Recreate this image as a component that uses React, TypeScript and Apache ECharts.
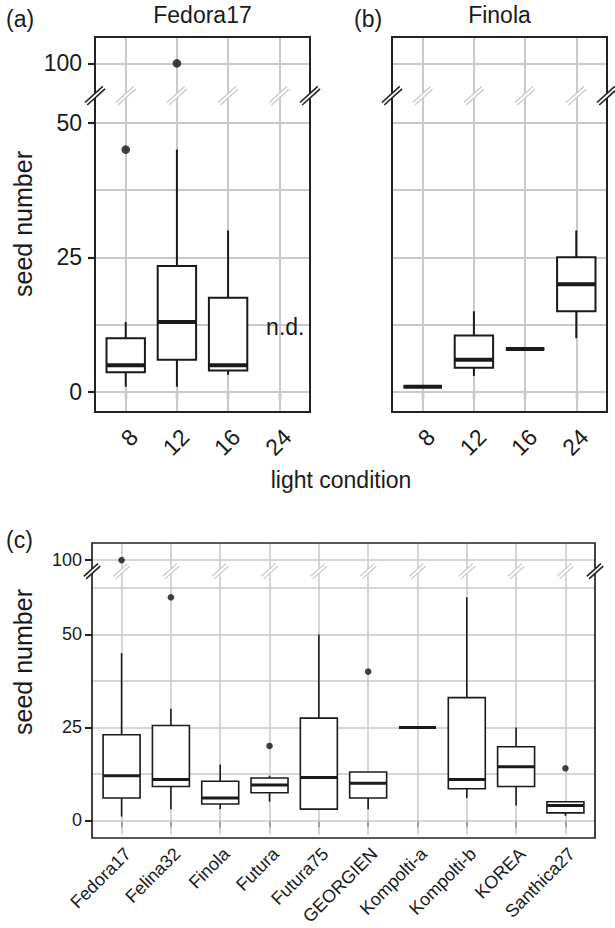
import React, { useEffect, useRef } from "react";
import * as echarts from "echarts";

// ---------- data ----------
const lightConditions = ["8", "12", "16", "24"];
// [min, Q1, median, Q3, max]; null = not determined
const fedoraBox: (number[] | null)[] = [
  [1, 3.7, 5, 10, 13],
  [1, 6, 13, 23.4, 45],
  [3.2, 4, 5, 17.5, 30],
  null,
];
const fedoraOutliers: [string, number][] = [
  ["8", 45],
  ["12", 100],
];
const finolaBox: (number[] | null)[] = [
  [1, 1, 1, 1, 1],
  [3, 4.5, 6, 10.5, 15],
  [8, 8, 8, 8, 8],
  [10, 15, 20, 25, 30],
];
const finolaOutliers: [string, number][] = [];
const ndLabel = { category: "24", value: 12, text: "n.d." };

const cultivars = [
  "Fedora17",
  "Felina32",
  "Finola",
  "Futura",
  "Futura75",
  "GEORGIEN",
  "Kompolti-a",
  "Kompolti-b",
  "KOREA",
  "Santhica27",
];
const cultivarBox: (number[] | null)[] = [
  [1, 6, 12, 23, 45],
  [3, 9.1, 11, 25.5, 30],
  [3, 4.4, 6, 10.5, 15],
  [5, 7.4, 9.5, 11.4, 12],
  [3, 3, 11.5, 27.5, 50],
  [3, 6, 10, 13, 13],
  [25, 25, 25, 25, 25],
  [6, 8.5, 11, 33, 60],
  [4, 9.1, 14.4, 19.8, 25],
  [1.2, 2, 4, 5, 5],
];
const cultivarOutliers: [string, number][] = [
  ["Fedora17", 100],
  ["Felina32", 60],
  ["Futura", 20],
  ["GEORGIEN", 40],
  ["Santhica27", 14],
];

const topTicks = [0, 25, 50, 100];
const topGridValues = [0, 12.5, 25, 37.5, 50, 100];
const bottomTicks = [0, 25, 50, 100];
const bottomGridValues = [0, 12.5, 25, 37.5, 50, 62.5, 100];

// ---------- layout / style ----------
const FONT = "'Liberation Sans', Arial, Helvetica, sans-serif";
const INK = "#1a1a1a";
const FRAME = "#222222";
const GRIDC = "#c9c9c9";
const BOX_WIDTH = 0.75;

type Panel = {
  cats: string[];
  box: (number[] | null)[];
  outliers: [string, number][];
  ticks: number[];
  gridValues: number[];
  cut: number;
  shift: number;
  yMin: number;
  yMax: number;
  rect: { left: number; top: number; width: number; height: number };
  yLabels: boolean;
  font: number;
  xMargin: number;
  yMargin: number;
  line: number;
  median: number;
  dot: number;
  grid: number;
  border: number;
  slash: number;
  tickW: number;
};

const panels: Panel[] = [
  {
    cats: lightConditions, box: fedoraBox, outliers: fedoraOutliers,
    ticks: topTicks, gridValues: topGridValues, cut: 55, shift: 39,
    yMin: -3.7, yMax: 65.9, rect: { left: 95, top: 37, width: 215, height: 375 },
    yLabels: true, font: 23, xMargin: 13, yMargin: 13, line: 2, median: 4,
    dot: 8.6, grid: 2, border: 2, slash: 24, tickW: 2.2,
  },
  {
    cats: lightConditions, box: finolaBox, outliers: finolaOutliers,
    ticks: topTicks, gridValues: topGridValues, cut: 55, shift: 39,
    yMin: -3.7, yMax: 65.9, rect: { left: 392, top: 37, width: 215, height: 375 },
    yLabels: false, font: 23, xMargin: 13, yMargin: 13, line: 2, median: 4,
    dot: 8.6, grid: 2, border: 2, slash: 24, tickW: 2.2,
  },
  {
    cats: cultivars, box: cultivarBox, outliers: cultivarOutliers,
    ticks: bottomTicks, gridValues: bottomGridValues, cut: 67, shift: 30,
    yMin: -3.83, yMax: 74.6, rect: { left: 92, top: 543, width: 503, height: 295 },
    yLabels: true, font: 18, xMargin: 10, yMargin: 10, line: 1.6, median: 3,
    dot: 6.6, grid: 1.5, border: 1.7, slash: 19, tickW: 2,
  },
];

const toDisplay = (v: number, p: Panel) => (v > p.cut ? v - p.shift : v);

function buildOption() {
  const grid: any[] = [];
  const xAxis: any[] = [];
  const yAxis: any[] = [];
  const series: any[] = [];

  panels.forEach((p, i) => {
    const n = p.cats.length;
    const idx = p.cats.map((_, k) => k + 1);
    grid.push({ ...p.rect, show: false, containLabel: false });
    xAxis.push({
      gridIndex: i,
      type: "value",
      min: 0.4,
      max: n + 0.6,
      axisLine: { show: false },
      splitLine: { show: false },
      axisTick: {
        show: true,
        customValues: idx,
        length: 7,
        lineStyle: { color: FRAME, width: p.tickW },
      },
      axisLabel: {
        show: true,
        customValues: idx,
        formatter: (v: number) => p.cats[Math.round(v) - 1] ?? "",
        rotate: 45,
        align: "right",
        verticalAlign: "top",
        margin: p.xMargin,
        fontSize: p.font,
        color: INK,
        fontFamily: FONT,
      },
    });
    const tickDisp = p.ticks.map((t) => toDisplay(t, p));
    yAxis.push({
      gridIndex: i,
      type: "value",
      min: p.yMin,
      max: p.yMax,
      axisLine: { show: false },
      splitLine: { show: false },
      axisTick: {
        show: p.yLabels,
        customValues: tickDisp,
        length: 7,
        lineStyle: { color: FRAME, width: p.tickW },
      },
      axisLabel: {
        show: p.yLabels,
        customValues: tickDisp,
        formatter: (val: number) => {
          const t = p.ticks.find((tt) => Math.abs(toDisplay(tt, p) - val) < 1e-6);
          return t === undefined ? "" : String(t);
        },
        margin: p.yMargin,
        fontSize: p.font,
        color: INK,
        fontFamily: FONT,
      },
    });

    const boxData = p.box
      .map((s, k) => (s ? [k + 1, ...s.map((v) => toDisplay(v, p))] : null))
      .filter((d) => d !== null);

    series.push({
      type: "custom",
      xAxisIndex: i,
      yAxisIndex: i,
      z: 10,
      silent: true,
      encode: { x: 0, y: [1, 2, 3, 4, 5] },
      data: boxData,
      renderItem: (_params: any, api: any) => {
        const x = api.value(0);
        const pts = [1, 2, 3, 4, 5].map((k) => api.coord([x, api.value(k)]));
        const half = api.size([BOX_WIDTH, 0])[0] / 2;
        const cx = pts[0][0];
        const st = { stroke: INK, lineWidth: p.line, fill: null };
        return {
          type: "group",
          children: [
            { type: "line", shape: { x1: cx, y1: pts[0][1], x2: cx, y2: pts[1][1] }, style: st },
            { type: "line", shape: { x1: cx, y1: pts[3][1], x2: cx, y2: pts[4][1] }, style: st },
            {
              type: "rect",
              shape: { x: cx - half, y: pts[3][1], width: 2 * half, height: pts[1][1] - pts[3][1] },
              style: { stroke: INK, lineWidth: p.line, fill: "#ffffff" },
            },
            {
              type: "line",
              shape: { x1: cx - half, y1: pts[2][1], x2: cx + half, y2: pts[2][1] },
              style: { stroke: INK, lineWidth: p.median },
            },
          ],
        };
      },
      markLine: {
        silent: true,
        symbol: ["none", "none"],
        label: { show: false },
        emphasis: { disabled: true },
        lineStyle: { color: GRIDC, width: p.grid, type: "solid" },
        data: [
          ...p.gridValues.map((v) => ({ yAxis: toDisplay(v, p) })),
          ...idx.map((x) => ({ xAxis: x })),
        ],
      },
    });

    series.push({
      type: "scatter",
      xAxisIndex: i,
      yAxisIndex: i,
      z: 12,
      silent: true,
      symbol: "circle",
      symbolSize: p.dot,
      itemStyle: { color: "#111111" },
      data: p.outliers.map(([c, v]) => [p.cats.indexOf(c) + 1, toDisplay(v, p)]),
    });
  });

  return {
    animation: false,
    backgroundColor: "#ffffff",
    grid,
    xAxis,
    yAxis,
    series,
  };
}

function textEl(text: string, x: number, y: number, size: number, opts: any = {}) {
  return {
    type: "text",
    x,
    y,
    rotation: opts.rotation || 0,
    z: 40,
    silent: true,
    style: {
      text,
      fill: INK,
      font: `${size}px ${FONT}`,
      align: opts.align || "center",
      verticalAlign: "middle",
    },
  };
}

function slashEls(cx: number, cy: number, len: number, color: string, w: number) {
  const a = (42 * Math.PI) / 180;
  const ux = Math.cos(a), uy = -Math.sin(a);
  const nx = Math.sin(a), ny = Math.cos(a);
  const h = len / 2;
  const off = 1.7;
  const mk = (dx: number, dy: number, col: string, lw: number) => ({
    type: "line",
    z: 35,
    silent: true,
    shape: { x1: cx - ux * h + dx, y1: cy - uy * h + dy, x2: cx + ux * h + dx, y2: cy + uy * h + dy },
    style: { stroke: col, lineWidth: lw },
  });
  return [
    mk(0, 0, "#ffffff", 3.2),
    mk(nx * off, ny * off, color, w),
    mk(-nx * off, -ny * off, color, w),
  ];
}

export default function App() {
  const ref = useRef<HTMLDivElement>(null);
  useEffect(() => {
    if (!ref.current) return;
    const chart = echarts.init(ref.current, null, { renderer: "svg" });
    chart.setOption(buildOption());

    const g: any[] = [];
    panels.forEach((p, i) => {
      g.push({
        type: "rect",
        z: 30,
        silent: true,
        shape: { x: p.rect.left, y: p.rect.top, width: p.rect.width, height: p.rect.height },
        style: { fill: null, stroke: FRAME, lineWidth: p.border },
      });
      const n = p.cats.length;
      const xs = [0.4, ...p.cats.map((_, k) => k + 1), n + 0.6];
      xs.forEach((x, k) => {
        const pt = chart.convertToPixel({ xAxisIndex: i, yAxisIndex: i }, [x, p.cut]) as number[];
        const edge = k === 0 || k === xs.length - 1;
        g.push(...slashEls(pt[0], pt[1], p.slash, edge ? FRAME : GRIDC, edge ? 1.6 : 1.3));
      });
    });

    const nd = chart.convertToPixel({ xAxisIndex: 0, yAxisIndex: 0 }, [
      lightConditions.indexOf(ndLabel.category) + 1,
      toDisplay(ndLabel.value, panels[0]),
    ]) as number[];
    g.push(textEl(ndLabel.text, nd[0] + 6, nd[1], 23));

    g.push(textEl("(a)", 6, 19, 23, { align: "left" }));
    g.push(textEl("Fedora17", 202.5, 15, 23));
    g.push(textEl("(b)", 354, 19, 23, { align: "left" }));
    g.push(textEl("Finola", 499.5, 15, 23));
    g.push(textEl("seed number", 23, 224, 25, { rotation: Math.PI / 2 }));
    g.push(textEl("light condition", 341, 480, 23));
    g.push(textEl("(c)", 6, 540, 23, { align: "left" }));
    g.push(textEl("seed number", 23, 662, 25, { rotation: Math.PI / 2 }));

    chart.setOption({ graphic: g });
    return () => chart.dispose();
  }, []);
  return (
    <div
      ref={ref}
      style={{ position: "absolute", left: 0, top: 0, width: 615, height: 928, background: "#fff" }}
    />
  );
}
